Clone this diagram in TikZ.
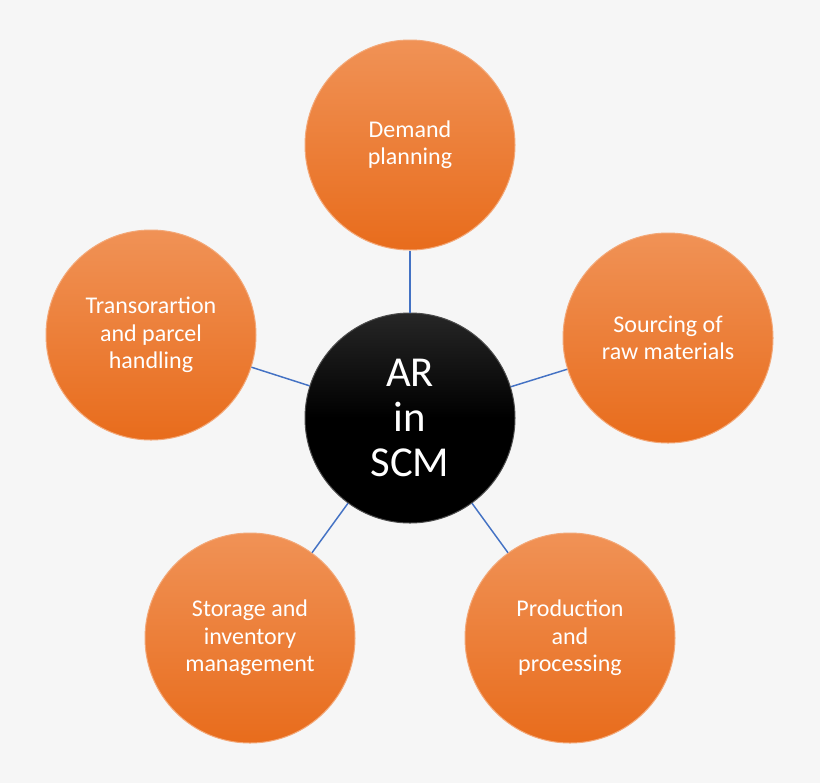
\documentclass[tikz,border=0pt]{standalone}
\usepackage{fontspec}
\setmainfont{Carlito}
\definecolor{bgGray}{RGB}{246,246,246}
\definecolor{linkBlue}{RGB}{68,114,196}
\definecolor{orangeTop}{RGB}{240,146,86}
\definecolor{orangeBot}{RGB}{232,108,28}
\tikzset{every picture/.style={line width=0.75pt}}
\tikzset{
  topic/.style={circle, minimum size=157.5pt, inner sep=0pt, align=center, font=\fontsize{18}{20.5}\selectfont,
    text=white, top color=orangeTop, bottom color=orangeBot, draw=orangeTop!80!white},
  hub/.style={circle, minimum size=157.5pt, inner sep=0pt, align=center, font=\fontsize{32}{34}\selectfont,
    text=white, top color=black!85, bottom color=black, middle color=black, draw=black!70},
  link/.style={draw=linkBlue, line width=1.1pt}
}
\begin{document}
\begin{tikzpicture}[x=0.75pt,y=0.75pt,yscale=-1,xscale=1]
	\fill [bgGray] (0,0) rectangle (820,783);
	\useasboundingbox (0,0) rectangle (820,783);

	% Center
	\node [hub] (hub) at (410,418) {AR\\in\\SCM};
	% Outer circles
	\node [topic] (demand) at (410,145) {Demand\\planning};
	\node [topic] (sourcing) at (668,338) {Sourcing of\\raw materials};
	\node [topic] (production) at (570,638) {Production\\and\\processing};
	\node [topic] (storage) at (250,638) {Storage and\\inventory\\management};
	\node [topic] (transport) at (151,335) {Transorartion\\and parcel\\handling};
	% Connections
	\path [link] (hub) -- (demand);
	\path [link] (hub) -- (sourcing);
	\path [link] (hub) -- (production);
	\path [link] (hub) -- (storage);
	\path [link] (hub) -- (transport);

\end{tikzpicture}
\end{document}
